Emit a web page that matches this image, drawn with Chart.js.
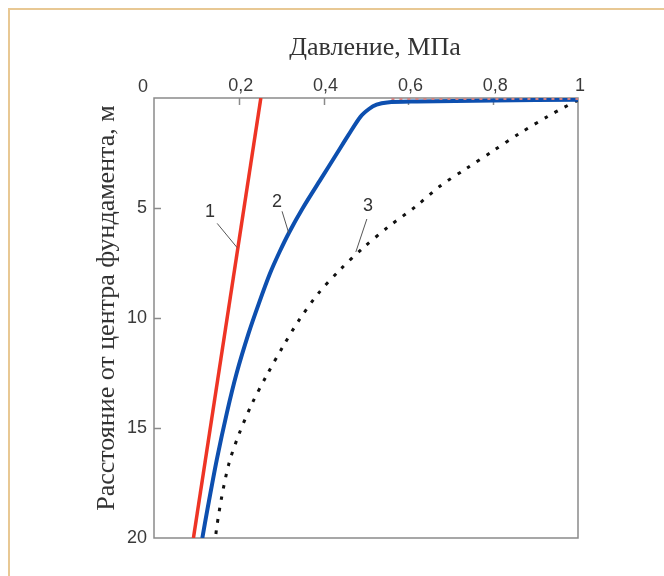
<!DOCTYPE html>
<html>
<head>
<meta charset="utf-8">
<script src="https://cdn.jsdelivr.net/npm/chart.js@4/dist/chart.umd.min.js"></script>
<style>
  html, body { margin: 0; padding: 0; background: #ffffff; }
  #wrap { position: relative; width: 664px; height: 576px; overflow: hidden; }
  #frame { position: absolute; left: 8px; top: 8px; width: 800px; height: 800px;
           border-top: 2px solid #e8c894; border-left: 2px solid #e8c894; }
  canvas { position: absolute; left: 0; top: 0; }
</style>
</head>
<body>
<div id="wrap">
  <div id="frame"></div>
  <canvas id="c" width="664" height="576"></canvas>
</div>
<script>
// ---- data ----
const xTitle = 'Давление, МПа';
const yTitle = 'Расстояние от центра фундамента, м';
const pressureTicks = [0, 0.2, 0.4, 0.6, 0.8, 1];
const depthTicks = [0, 5, 10, 15, 20];

const curve1X = [0.252, 0.093];
const curve1Y = [0, 20];

const curve2X = [1.0, 0.8, 0.62, 0.55, 0.525, 0.507, 0.487, 0.458, 0.432, 0.393, 0.351, 0.319, 0.296, 0.273, 0.248, 0.223, 0.195, 0.172, 0.148, 0.126, 0.114];
const curve2Y = [0.08, 0.11, 0.16, 0.2, 0.3, 0.5, 0.85, 1.7, 2.5, 3.7, 5.0, 6.1, 7.0, 8.0, 9.3, 10.7, 12.5, 14.3, 16.45, 18.7, 20];

const curve3X = [1.0, 0.965, 0.93, 0.863, 0.8, 0.737, 0.675, 0.616, 0.553, 0.494, 0.439, 0.387, 0.342, 0.304, 0.266, 0.231, 0.2, 0.177, 0.16, 0.148, 0.145];
const curve3Y = [0.1, 0.45, 0.82, 1.6, 2.4, 3.2, 4.0, 4.95, 5.85, 6.8, 7.8, 8.9, 10.1, 11.3, 12.6, 13.9, 15.3, 16.6, 18.1, 19.5, 20];

// thin dashed overlay along line 1 and dotted overlay along the top of line 2
const overlay1X = [0.178, 0.093];
const overlay1Y = [9.3, 20];
const overlayTopX = [0.56, 1.0];
const overlayTopY = [0.04, 0.04];

// curve labels with leader lines
const labelText = ['1', '2', '3'];
const labelX = [0.132, 0.29, 0.505];
const labelY = [5.2, 4.75, 4.9];
const leaderX0 = [0.149, 0.302, 0.502];
const leaderY0 = [5.7, 5.15, 5.5];
const leaderX1 = [0.196, 0.318, 0.476];
const leaderY1 = [6.8, 6.15, 7.0];

const pts = (xs, ys) => xs.map((x, i) => ({ x: x, y: ys[i] }));
const fmt = v => String(Math.round(v * 10) / 10).replace('.', ',');

const sansFamily = '"Liberation Sans", Arial, sans-serif';
const serifFont = '26px "Liberation Serif", "Times New Roman", serif';
const tickFont = '18px ' + sansFamily;

const decor = {
  id: 'decor',
  beforeDatasetsDraw(chart) {
    const { ctx, chartArea: a, scales: { x, y } } = chart;
    ctx.save();
    ctx.strokeStyle = '#8a8a8a';
    ctx.lineWidth = 1.5;
    ctx.strokeRect(a.left, a.top, a.right - a.left, a.bottom - a.top);
    ctx.beginPath();
    pressureTicks.forEach(v => {
      if (v <= 0 || v >= 1) return;
      const px = Math.round(x.getPixelForValue(v)) + 0.5;
      ctx.moveTo(px, a.top); ctx.lineTo(px, a.top + 7);
    });
    depthTicks.forEach(v => {
      if (v <= 0 || v >= 20) return;
      const py = Math.round(y.getPixelForValue(v)) + 0.5;
      ctx.moveTo(a.left, py); ctx.lineTo(a.left + 7, py);
    });
    ctx.stroke();
    // axis titles
    ctx.fillStyle = '#333333';
    ctx.font = serifFont;
    ctx.textAlign = 'center';
    ctx.textBaseline = 'middle';
    ctx.fillText(xTitle, (a.left + a.right) / 2 + 9, a.top - 50);
    ctx.save();
    ctx.translate(a.left - 47, (a.top + a.bottom) / 2 - 10);
    ctx.rotate(-Math.PI / 2);
    ctx.fillText(yTitle, 0, 0);
    ctx.restore();
    ctx.restore();
  },
  afterDatasetsDraw(chart) {
    const { ctx, chartArea: a, scales: { x, y } } = chart;
    ctx.save();
    // origin label
    ctx.font = tickFont;
    ctx.fillStyle = '#3a3a3a';
    ctx.textAlign = 'center';
    ctx.textBaseline = 'middle';
    ctx.fillText('0', x.getPixelForValue(0) - 11, a.top - 11);
    // leaders
    ctx.strokeStyle = '#555555';
    ctx.lineWidth = 1;
    ctx.beginPath();
    for (let i = 0; i < labelText.length; i++) {
      ctx.moveTo(x.getPixelForValue(leaderX0[i]), y.getPixelForValue(leaderY0[i]));
      ctx.lineTo(x.getPixelForValue(leaderX1[i]), y.getPixelForValue(leaderY1[i]));
    }
    ctx.stroke();
    ctx.fillStyle = '#333333';
    for (let i = 0; i < labelText.length; i++) {
      ctx.fillText(labelText[i], x.getPixelForValue(labelX[i]), y.getPixelForValue(labelY[i]));
    }
    ctx.restore();
  }
};

new Chart(document.getElementById('c'), {
  type: 'scatter',
  data: {
    datasets: [
      { data: pts(curve1X, curve1Y), showLine: true, borderColor: '#ee3424', borderWidth: 3.5, pointRadius: 0 },
      { data: pts(overlay1X, overlay1Y), showLine: true, borderColor: '#5a4a4a', borderWidth: 1.3, borderDash: [4, 4], pointRadius: 0 },
      { data: pts(overlayTopX, overlayTopY), showLine: true, borderColor: '#d08080', borderWidth: 2, borderDash: [3, 5], pointRadius: 0 },
      { data: pts(curve2X, curve2Y), showLine: true, borderColor: '#0d4faf', borderWidth: 4, pointRadius: 0, tension: 0.3 },
      { data: pts(curve3X, curve3Y), showLine: true, borderColor: '#111111', borderWidth: 3, borderDash: [3.5, 8], borderCapStyle: 'butt', pointRadius: 0, tension: 0.3 }
    ]
  },
  options: {
    responsive: false,
    animation: false,
    events: [],
    layout: { padding: { left: 94, top: 34, right: 86, bottom: 38 } },
    plugins: { legend: { display: false }, tooltip: { enabled: false } },
    scales: {
      x: {
        type: 'linear', position: 'top', min: 0, max: 1,
        afterFit: s => { s.height = 64; },
        afterBuildTicks: s => { s.ticks = pressureTicks.map(v => ({ value: v })); },
        grid: { display: false, drawTicks: false },
        border: { display: false },
        ticks: {
          padding: 1, labelOffset: 2, color: '#3a3a3a', maxRotation: 0, autoSkip: false,
          font: { family: sansFamily, size: 18 },
          callback: v => (v === 0 ? '' : fmt(v))
        },
        title: { display: false }
      },
      y: {
        type: 'linear', reverse: true, min: 0, max: 20,
        afterFit: s => { s.width = 60; },
        afterBuildTicks: s => { s.ticks = depthTicks.map(v => ({ value: v })); },
        grid: { display: false, drawTicks: false },
        border: { display: false },
        ticks: {
          padding: 7, color: '#3a3a3a', autoSkip: false,
          font: { family: sansFamily, size: 18 },
          callback: v => (v === 0 ? '' : String(v))
        },
        title: { display: false }
      }
    }
  },
  plugins: [decor]
});
</script>
</body>
</html>
